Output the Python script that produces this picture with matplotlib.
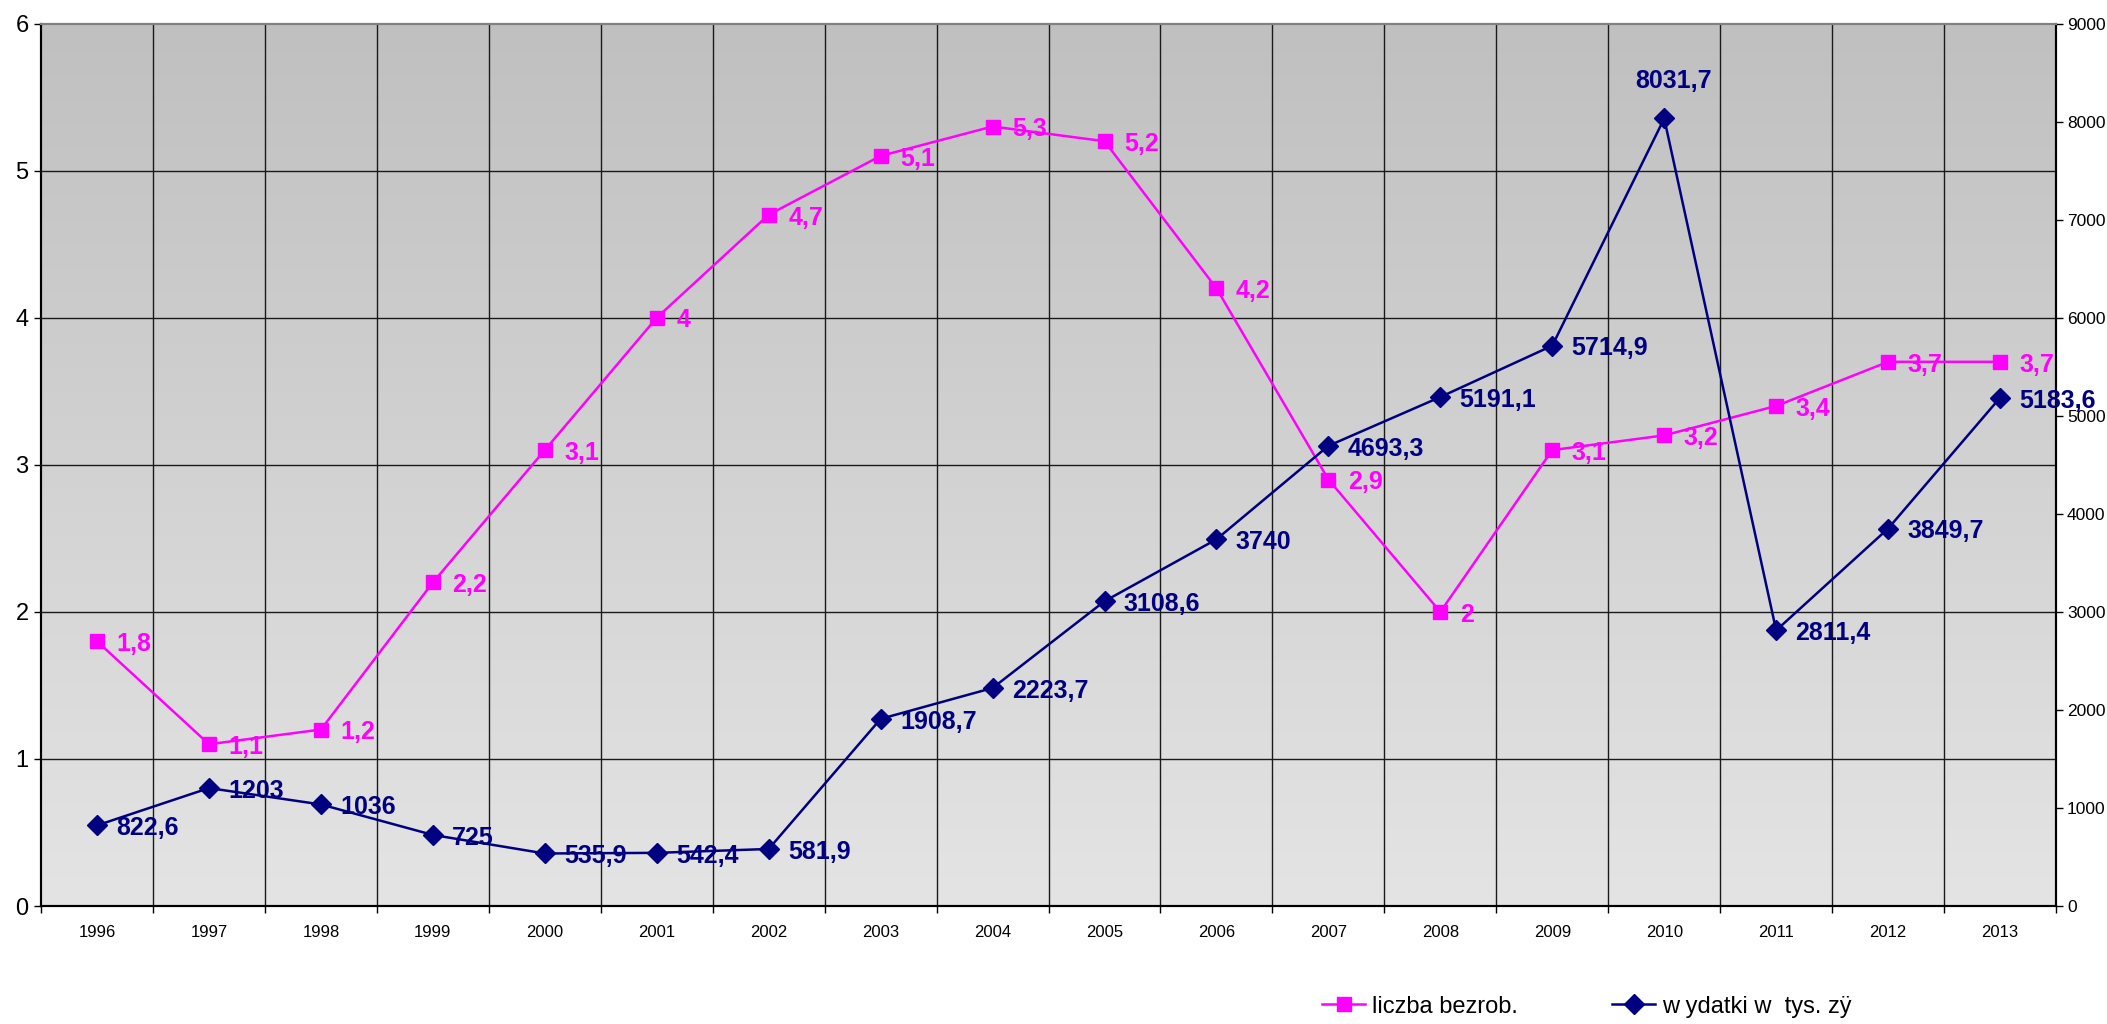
import numpy as np
import matplotlib
matplotlib.use('Agg')
from matplotlib import pyplot as plt

# arial-like font as in the original excel chart
plt.rcParams['font.family'] = ['Liberation Sans', 'DejaVu Sans']

years = ['1996', '1997', '1998', '1999', '2000', '2001', '2002', '2003', '2004',
         '2005', '2006', '2007', '2008', '2009', '2010', '2011', '2012', '2013']
bezrob = [1.8, 1.1, 1.2, 2.2, 3.1, 4.0, 4.7, 5.1, 5.3, 5.2, 4.2, 2.9, 2.0, 3.1, 3.2, 3.4, 3.7, 3.7]
wydatki = [822.6, 1203, 1036, 725, 535.9, 542.4, 581.9, 1908.7, 2223.7, 3108.6, 3740,
           4693.3, 5191.1, 5714.9, 8031.7, 2811.4, 3849.7, 5183.6]
bezrob_labels = ['1,8', '1,1', '1,2', '2,2', '3,1', '4', '4,7', '5,1', '5,3', '5,2', '4,2',
                 '2,9', '2', '3,1', '3,2', '3,4', '3,7', '3,7']
wydatki_labels = ['822,6', '1203', '1036', '725', '535,9', '542,4', '581,9', '1908,7',
                  '2223,7', '3108,6', '3740', '4693,3', '5191,1', '5714,9', '8031,7',
                  '2811,4', '3849,7', '5183,6']

MAGENTA = '#FF00FF'
NAVY = '#000080'

fig = plt.figure(figsize=(21.07, 10.24), dpi=100)
fig.subplots_adjust(left=0.0195, right=0.9758, top=0.977, bottom=0.1152)
ax = fig.add_subplot(111)
ax2 = ax.twinx()

x = np.arange(len(years))

# grey gradient background, darker at the top
grad = np.linspace(0, 1, 256).reshape(-1, 1)
cmap = matplotlib.colors.LinearSegmentedColormap.from_list('bg', ['#c0c0c0', '#e4e4e4'])
ax.imshow(grad, extent=[0, 1, 0, 1], transform=ax.transAxes, cmap=cmap,
          aspect='auto', zorder=0, interpolation='bicubic')

ax.set_xlim(-0.5, len(years) - 0.5)
ax.set_ylim(0, 6)
ax2.set_ylim(0, 9000)

# grid
for b in np.arange(0.5, len(years) - 0.5, 1):
    ax.axvline(b, color='#1a1a1a', lw=1.0, zorder=1)
for yv in range(1, 6):
    ax.axhline(yv, color='#1a1a1a', lw=1.0, zorder=1)

ax.plot(x, bezrob, color=MAGENTA, lw=1.8, marker='s', markersize=10, zorder=3,
        label='liczba bezrob.')
ax2.plot(x, wydatki, color=NAVY, lw=1.8, marker='D', markersize=10, zorder=3,
         label='w ydatki w  tys. zÿ')

for xi, v, t in zip(x, bezrob, bezrob_labels):
    ax.annotate(t, (xi, v), xytext=(14, -2), textcoords='offset points', ha='left',
                va='center', color=MAGENTA, fontsize=18, fontweight='bold', zorder=4)
for xi, v, t in zip(x, wydatki, wydatki_labels):
    if v > 8000:
        ax2.annotate(t, (xi, v), xytext=(7, 27), textcoords='offset points', ha='center',
                     va='center', color=NAVY, fontsize=18, fontweight='bold', zorder=4)
    else:
        ax2.annotate(t, (xi, v), xytext=(14, -2), textcoords='offset points', ha='left',
                     va='center', color=NAVY, fontsize=18, fontweight='bold', zorder=4)

# ticks
ax.set_xticks(x)
ax.set_xticklabels(years, fontsize=12)
ax.set_xticks(np.arange(-0.5, len(years), 1), minor=True)
ax.tick_params(axis='x', which='major', length=0, pad=14)
ax.tick_params(axis='x', which='minor', length=5, width=1, direction='out')
ax.set_yticks(range(0, 7))
ax.tick_params(axis='y', length=5, width=1, direction='out', labelsize=17, pad=4)
ax2.set_yticks(range(0, 9001, 1000))
ax2.tick_params(axis='y', length=5, width=1, direction='out', labelsize=12.5, pad=3)

for a in (ax, ax2):
    a.spines['top'].set_color('#808080')
    a.spines['top'].set_linewidth(1.5)
    a.spines['left'].set_linewidth(1.5)
    a.spines['right'].set_linewidth(1.5)
    a.spines['bottom'].set_linewidth(1.5)
ax2.patch.set_visible(False)

h1, l1 = ax.get_legend_handles_labels()
h2, l2 = ax2.get_legend_handles_labels()
fig.legend(h1 + h2, l1 + l2, loc='center left', bbox_to_anchor=(0.622, 0.017),
           ncol=2, frameon=False, fontsize=17, handlelength=1.8, handletextpad=0.3,
           columnspacing=4.0, borderpad=0)

fig.savefig('out.png', dpi=100)
